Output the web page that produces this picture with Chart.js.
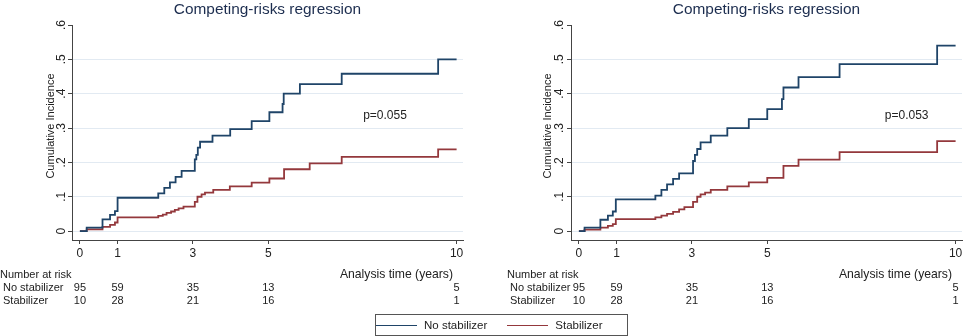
<!DOCTYPE html>
<html>
<head>
<meta charset="utf-8">
<script src="https://cdn.jsdelivr.net/npm/chart.js@4.4.1/dist/chart.umd.min.js"></script>
<style>
  body { margin: 0; background: #fff; width: 967px; height: 336px; overflow: hidden; position: relative;
         font-family: "Liberation Sans", Arial, sans-serif; }
  canvas { position: absolute; top: 0; }
  #left { left: 0; }
  #right { left: 499px; }
  #legend { position: absolute; left: 375px; top: 314px; width: 251px; height: 20px; border: 1px solid #555;
            font-size: 11.5px; color: #222; display: flex; align-items: center; }
  #legend .item { display: flex; align-items: center; margin-right: 10px; }
  #legend .sw { width: 41px; height: 0; border-top: 1.5px solid; margin-right: 7px; }
</style>
</head>
<body>
<canvas id="left" width="468" height="336"></canvas>
<canvas id="right" width="468" height="336"></canvas>
<div id="legend"></div>
<script>
const seriesNames = ['No stabilizer', 'Stabilizer'];
const seriesColors = ['#1f4468', '#94383c'];

const xTicks = [0, 1, 3, 5, 10];
const yTicks = [0, 0.1, 0.2, 0.3, 0.4, 0.5, 0.6];
const yTickLabels = ['0', '.1', '.2', '.3', '.4', '.5', '.6'];

// left panel
const leftNoStabTime = [0, 0.18, 0.6, 0.8, 0.93, 1.0, 2.08, 2.24, 2.39, 2.54, 2.70, 3.05, 3.09, 3.13, 3.19, 3.52, 3.99, 4.56, 5.03, 5.38, 5.41, 5.84, 6.95, 9.51, 10.0];
const leftNoStabCif = [0, 0.01, 0.034, 0.047, 0.058, 0.097, 0.11, 0.126, 0.142, 0.158, 0.175, 0.209, 0.222, 0.243, 0.26, 0.278, 0.297, 0.32, 0.346, 0.37, 0.40, 0.428, 0.458, 0.5, 0.5];
const leftStabTime = [0, 0.18, 0.6, 0.8, 0.93, 1.0, 2.08, 2.2, 2.3, 2.42, 2.52, 2.62, 2.75, 3.05, 3.12, 3.23, 3.32, 3.54, 3.98, 4.56, 5.03, 5.42, 6.1, 6.95, 9.51, 10.0];
const leftStabCif = [0, 0.005, 0.012, 0.018, 0.025, 0.04, 0.044, 0.048, 0.053, 0.057, 0.062, 0.066, 0.071, 0.085, 0.1, 0.107, 0.112, 0.12, 0.13, 0.141, 0.153, 0.18, 0.197, 0.216, 0.238, 0.238];
const leftAtRiskNoStab = [95, 59, 35, 13, 5];
const leftAtRiskStab = [10, 28, 21, 16, 1];

// right panel
const rightNoStabTime = [0, 0.15, 0.57, 0.77, 0.9, 0.98, 2.03, 2.19, 2.34, 2.5, 2.66, 3.03, 3.08, 3.14, 3.23, 3.5, 3.94, 4.51, 5.0, 5.39, 5.43, 5.83, 6.92, 9.51, 10.0];
const rightNoStabCif = [0, 0.01, 0.033, 0.045, 0.057, 0.092, 0.103, 0.12, 0.136, 0.152, 0.168, 0.204, 0.222, 0.239, 0.258, 0.278, 0.3, 0.326, 0.355, 0.384, 0.418, 0.448, 0.486, 0.54, 0.54];
const rightStabTime = [0, 0.15, 0.57, 0.77, 0.9, 0.98, 2.03, 2.19, 2.34, 2.5, 2.66, 2.8, 3.03, 3.14, 3.23, 3.35, 3.5, 3.94, 4.51, 5.0, 5.43, 5.83, 6.92, 9.51, 10.0];
const rightStabCif = [0, 0.004, 0.01, 0.015, 0.02, 0.035, 0.04, 0.045, 0.05, 0.056, 0.063, 0.07, 0.085, 0.1, 0.107, 0.112, 0.12, 0.13, 0.142, 0.155, 0.19, 0.208, 0.23, 0.262, 0.262];
const rightAtRiskNoStab = [95, 59, 35, 13, 5];
const rightAtRiskStab = [10, 28, 21, 16, 1];

const FONT = '"Liberation Sans", Arial, sans-serif';
const TEXT = '#222';

function toPoints(times, values) {
  return times.map((t, i) => ({ x: t, y: values[i] }));
}

// title, rotated y labels, p-value and number-at-risk table
const panelText = {
  id: 'panelText',
  afterDraw(chart, args, opts) {
    const { ctx, chartArea, scales: { x, y } } = chart;
    ctx.save();
    ctx.fillStyle = '#1c2d4f';
    ctx.font = '15.4px ' + FONT;
    ctx.textAlign = 'center';
    ctx.textBaseline = 'middle';
    ctx.fillText('Competing-risks regression', (chartArea.left + chartArea.right) / 2, 9.5);

    ctx.fillStyle = TEXT;
    ctx.font = '12px ' + FONT;
    yTicks.forEach((v, i) => {
      ctx.save();
      ctx.translate(opts.yLabelX, y.getPixelForValue(v));
      ctx.rotate(-Math.PI / 2);
      ctx.fillText(yTickLabels[i], 0, 0);
      ctx.restore();
    });

    ctx.font = '11px ' + FONT;
    ctx.save();
    ctx.translate(opts.yTitleX, 126);
    ctx.rotate(-Math.PI / 2);
    ctx.fillText('Cumulative Incidence', 0, 0);
    ctx.restore();

    ctx.font = '12px ' + FONT;
    ctx.fillText(opts.pText, x.getPixelForValue(opts.pAt[0]), y.getPixelForValue(opts.pAt[1]));

    ctx.font = '12.2px ' + FONT;
    ctx.textAlign = 'right';
    ctx.fillText('Analysis time (years)', chartArea.right - 10, 275);
    ctx.font = '11px ' + FONT;
    ctx.textAlign = 'left';
    ctx.fillText('Number at risk', opts.tableX, 275);
    ctx.fillText(seriesNames[0], opts.tableX + 3, 287.5);
    ctx.fillText(seriesNames[1], opts.tableX + 3, 301);
    ctx.textAlign = 'center';
    xTicks.forEach((t, i) => {
      const px = x.getPixelForValue(t);
      ctx.fillText(String(opts.atRisk[0][i]), px, 287.5);
      ctx.fillText(String(opts.atRisk[1][i]), px, 301);
    });
    ctx.restore();
  }
};

function makePanel(id, noStab, stab, extra) {
  return new Chart(document.getElementById(id), {
    type: 'line',
    data: {
      datasets: [
        { label: seriesNames[0], data: noStab, borderColor: seriesColors[0], borderWidth: 1.8 },
        { label: seriesNames[1], data: stab, borderColor: seriesColors[1], borderWidth: 1.8 }
      ]
    },
    options: {
      responsive: false,
      animation: false,
      events: [],
      elements: { line: { stepped: true, fill: false }, point: { radius: 0 } },
      layout: { padding: { left: 66, top: 25, right: 5, bottom: 76 } },
      plugins: { legend: { display: false }, tooltip: { enabled: false }, panelText: extra },
      scales: {
        x: {
          type: 'linear',
          min: -0.21,
          max: 10.17,
          afterBuildTicks: (s) => { s.ticks = xTicks.map((v) => ({ value: v })); },
          afterFit: (s) => { s.height = 20; },
          grid: { drawOnChartArea: false, tickLength: 4, tickColor: '#444' },
          border: { color: '#444', width: 1 },
          ticks: { color: TEXT, font: { family: FONT, size: 12 }, padding: 2, maxRotation: 0,
                   callback: (v) => String(v) }
        },
        y: {
          min: -0.026,
          max: 0.6,
          afterBuildTicks: (s) => { s.ticks = yTicks.map((v) => ({ value: v })); },
          afterFit: (s) => { s.width = 6; },
          grid: {
            tickLength: 4,
            tickColor: '#444',
            color: (c) => (c.tick && c.tick.value < 0.55 ? '#e2eaf2' : 'rgba(0,0,0,0)')
          },
          border: { color: '#444', width: 1 },
          ticks: { display: false }
        }
      }
    },
    plugins: [panelText]
  });
}

makePanel('left', toPoints(leftNoStabTime, leftNoStabCif), toPoints(leftStabTime, leftStabCif), {
  yLabelX: 62, yTitleX: 51, tableX: 0, pText: 'p=0.055', pAt: [8.1, 0.335],
  atRisk: [leftAtRiskNoStab, leftAtRiskStab]
});
makePanel('right', toPoints(rightNoStabTime, rightNoStabCif), toPoints(rightStabTime, rightStabCif), {
  yLabelX: 61, yTitleX: 49, tableX: 8, pText: 'p=0.053', pAt: [8.7, 0.335],
  atRisk: [rightAtRiskNoStab, rightAtRiskStab]
});

const legend = document.getElementById('legend');
seriesNames.forEach((name, i) => {
  const item = document.createElement('div');
  item.className = 'item';
  const sw = document.createElement('span');
  sw.className = 'sw';
  sw.style.borderColor = seriesColors[i];
  item.appendChild(sw);
  item.appendChild(document.createTextNode(name));
  if (i === 1) item.style.marginLeft = '10px';
  legend.appendChild(item);
});
</script>
</body>
</html>
